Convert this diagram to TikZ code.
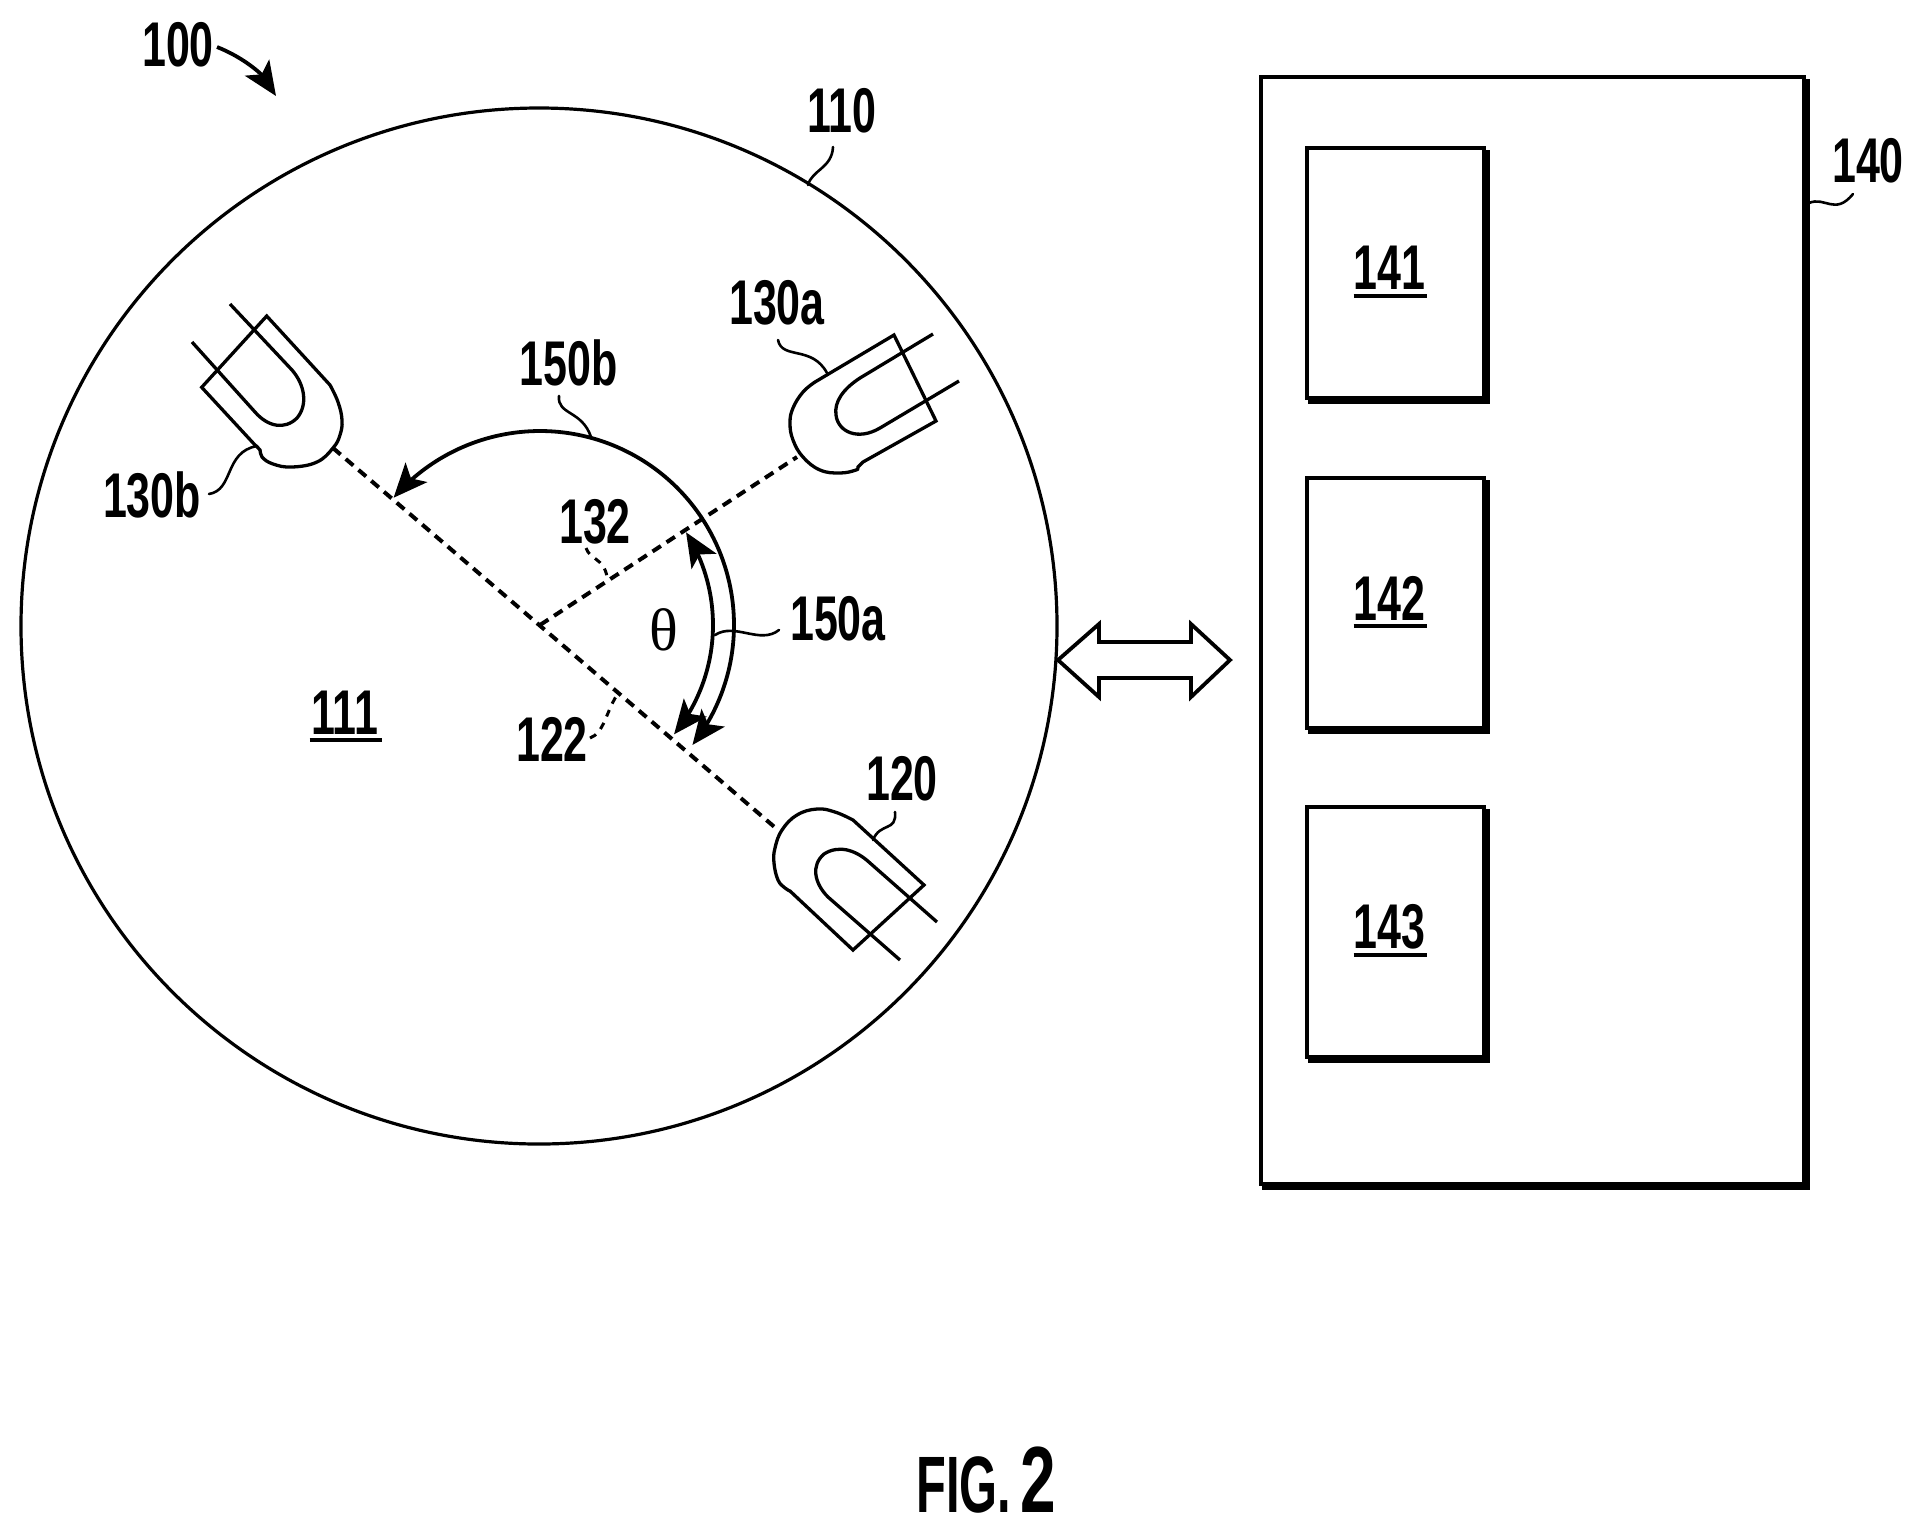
\documentclass[tikz,border=0pt]{standalone}
\usepackage{fontspec}
\setmainfont{Liberation Sans}[FakeStretch=0.68]
\newfontfamily\capfont{Liberation Sans}[FakeStretch=0.61]
\newfontfamily\capnumfont{Liberation Sans}[FakeStretch=0.68]
\newfontfamily\thetafont{Liberation Serif}
\usetikzlibrary{arrows.meta,calc}
\tikzset{
  num/.style={inner sep=0pt,outer sep=0pt,yshift=-0.7pt,font=\bfseries\fontsize{31.6}{32}\selectfont},
  bigline/.style={line width=1.65pt,line join=miter},
  lead/.style={line width=1.3pt,line cap=round},
  dashln/.style={line width=2pt,dash pattern=on 5pt off 3.4pt},
  dashlead/.style={line width=1.5pt,dash pattern=on 3.5pt off 3.5pt},
  blockbox/.style={draw,line width=2pt,inner sep=0pt,outer sep=0pt},
  shadowline/.style={line width=4pt,line join=miter},
  tip/.style={-{Stealth[length=17pt,width=14.5pt,inset=4pt]},line width=1.9pt},
  tips/.style={{Stealth[length=17pt,width=14.5pt,inset=4pt]}-{Stealth[length=17pt,width=14.5pt,inset=4pt]},line width=1.9pt},
  uline/.style={line width=2pt}
}
\begin{document}
\begin{tikzpicture}[x=0.5pt,y=-0.5pt]
\useasboundingbox (0,0) rectangle (1922,1533);
\fill[white] (0,0) rectangle (1922,1533);

% disk
\node[circle,draw,line width=1.6pt,minimum size=518pt,inner sep=0pt,outer sep=0pt] (disk) at (539,626) {};
\coordinate (ctr) at (540,625);
\coordinate (e130b) at (333,448);
\coordinate (e120) at (778,830);
\coordinate (e130a) at (797,457);

% dashed axes
\draw[dashln] (e130b) -- (e120);
\draw[dashln] (ctr) -- (e130a);

% sensor 120
\draw[bigline,fill=white] (924,885) -- plot[smooth,tension=.7] coordinates {(853,820)(835,812)(817,809)(797,815)(782,830)(775,848)(774,863)(778,880)(785,888)(790,891)} -- (853,950) -- cycle;
\draw[bigline] (937,922) -- (870,863) .. controls (855,849) and (838,845) .. (824,854) .. controls (811,865) and (814,883) .. (828,897) -- (900,960);

% sensor 130b
\draw[bigline,fill=white] (266.7,316) -- plot[smooth,tension=.7] coordinates {(330,385)(338,402)(342,420)(340,435)(333,448)(317,462)(292,467)(273,464)(262,457)(260,450)(255,445)} -- (201.7,387.3) -- cycle;
\draw[bigline] (230,304) -- (292,370) .. controls (305,385) and (308,405) .. (297,418) .. controls (285,430) and (268,427) .. (255,412) -- (192,342);

% sensor 130a
\draw[bigline,fill=white] (894,335) -- plot[smooth,tension=.7] coordinates {(815,382)(803,392)(793,408)(790,423)(793,440)(803,457)(820,470)(840,473)(856,470)(858,467)(863,462)} -- (936,421) -- cycle;
\draw[bigline] (933,334) -- (860,378) .. controls (843,389) and (834,402) .. (836,415) .. controls (838,432) and (858,441) .. (880,428) -- (959,381);

% arc arrows
\draw[tips] plot[smooth,domain=32.4:-39.2,samples=30] ({540+173*cos(\x)},{625-173*sin(\x)});
\draw[tips] plot[smooth,domain=-38.2:139,samples=60] ({540+194*cos(\x)},{625-194*sin(\x)});

% main box
\node[blockbox,minimum width=271.5pt,minimum height=553.5pt] (b140) at (1532.5,630.5) {};
\draw[shadowline] ($(b140.north east)+(2,2)$) -- ($(b140.south east)+(2,2)$) -- ($(b140.south west)+(1,2)$);

% inner boxes
\foreach \nm/\yc in {141/273,142/603,143/932}{
  \node[blockbox,minimum width=88.5pt,minimum height=125pt] (b\nm) at (1395.5,\yc) {};
  \draw[shadowline] ($(b\nm.north east)+(2,2)$) -- ($(b\nm.south east)+(2,2)$) -- ($(b\nm.south west)+(1,2)$);
  \node[num] (t\nm) at ($(b\nm.center)+(-6,-6.3)$) {\nm};
  \draw[uline] ($(t\nm.center)+(-36,28)$) -- ($(t\nm.center)+(37,28)$);
}

% double arrow
\draw[line width=1.9pt,line join=miter,fill=white] (1058,660) -- (1099,624) -- (1099,642) -- (1191,642) -- (1191,624) -- (1230,660) -- (1191,697) -- (1191,678) -- (1099,678) -- (1099,697) -- cycle;

% labels
\node[num] (t100) at (178,43) {100};
\node[num] (t110) at (842,109) {110};
\node[num] (t111) at (344.5,711) {111};
\draw[uline] ($(t111.center)+(-35,28)$) -- ($(t111.center)+(37,28)$);
\node[num] (t120) at (902,777) {120};
\node[num] (t122) at (552,738) {122};
\node[num] (t130a) at (777,301) {130a};
\node[num] (t130b) at (152,494) {130b};
\node[num] (t132) at (595,520) {132};
\node[num] (t140) at (1868,159) {140};
\node[num] (t150a) at (838,617) {150a};
\node[num] (t150b) at (568.5,361) {150b};
\node[inner sep=0pt,font=\thetafont\fontsize{30}{31}\selectfont] (theta) at (664,630) {θ};

% figure caption
\node[inner sep=0pt,anchor=base west,font=\capfont\bfseries\fontsize{40}{42}\selectfont] (fig) at (916,1512) {FIG.};
\node[inner sep=0pt,anchor=base west,font=\capnumfont\bfseries\fontsize{47}{48}\selectfont] (fignum) at (1020,1512) {2};

% pointer of 100
\draw[tip] (217,47) .. controls (245,58) and (262,75) .. (276,96);

% leaders
\draw[lead] (808,185) .. controls (812,170) and (832,168) .. (833,147);
\draw[lead] (873,840) .. controls (880,822) and (897,832) .. (895,812);
\draw[lead] (827,373) .. controls (812,345) and (782,360) .. (778,340);
\draw[lead] (257,446) .. controls (224,452) and (234,490) .. (209,494);
\draw[lead] (591,437) .. controls (582,410) and (557,415) .. (559,396);
\draw[lead] (715,635) .. controls (735,622) and (760,645) .. (779,630);
\draw[lead] (1809,203) .. controls (1825,196) and (1835,216) .. (1853,194);
\draw[dashlead] (586,548) .. controls (590,560) and (604,558) .. (607,577);
\draw[dashlead] (590,738) .. controls (604,733) and (606,712) .. (617,695);
\end{tikzpicture}
\end{document}
